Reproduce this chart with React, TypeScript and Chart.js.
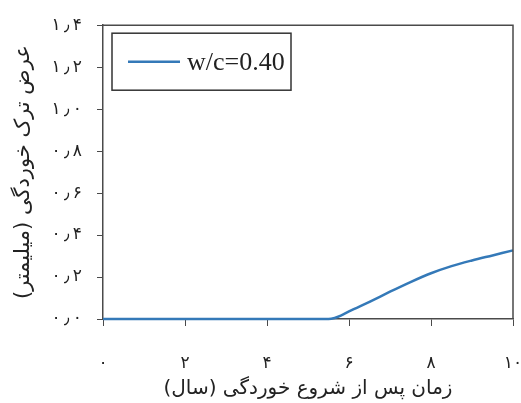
import React, { useEffect, useRef } from "react";
import { Chart, registerables } from "chart.js";

Chart.register(...registerables);

// Crack width (mm) against years since corrosion onset
const years = [0, 1, 2, 3, 4, 5, 5.5, 5.65, 5.8, 6, 6.5, 7, 7.5, 8, 8.5, 9, 9.5, 10];
const crackWidth = [0, 0, 0, 0, 0, 0, 0, 0.005, 0.016, 0.036, 0.082, 0.13, 0.176, 0.218, 0.252, 0.279, 0.303, 0.327];
const seriesLabel = "w/c=0.40";
const xTickValues = [0, 2, 4, 6, 8, 10];
const yTickValues = [0, 0.2, 0.4, 0.6, 0.8, 1.0, 1.2, 1.4];
const xTitle = "زمان پس از شروع خوردگی (سال)";
const yTitle = "عرض ترک خوردگی (میلیمتر)";

const LINE_COLOR = "#3479b8";
const FRAME_COLOR = "#4a4a4a";
const ARABIC_FONT = "'DejaVu Sans', sans-serif";

const persianDigits = "۰۱۲۳۴۵۶۷۸۹";
const toPersian = (s: string) =>
  s.replace(/[0-9]/g, (d) => persianDigits[Number(d)]).replace(".", "\u2009٫\u2009");

// Closes the box on the top and right sides of the plot
const framePlugin = {
  id: "frame",
  afterDatasetsDraw(chart: any) {
    const { ctx, chartArea } = chart;
    ctx.save();
    ctx.strokeStyle = FRAME_COLOR;
    ctx.lineWidth = 1.5;
    ctx.beginPath();
    ctx.moveTo(chartArea.left, chartArea.top);
    ctx.lineTo(chartArea.right, chartArea.top);
    ctx.lineTo(chartArea.right, chartArea.bottom);
    ctx.stroke();
    ctx.restore();
  },
};

// Boxed legend in the upper-left corner of the plot
const boxLegendPlugin = {
  id: "boxLegend",
  afterDraw(chart: any) {
    const { ctx, chartArea } = chart;
    const x = chartArea.left + 9;
    const y = chartArea.top + 8;
    const w = 179;
    const h = 57;
    ctx.save();
    ctx.fillStyle = "#ffffff";
    ctx.fillRect(x, y, w, h);
    ctx.strokeStyle = "#333333";
    ctx.lineWidth = 1.5;
    ctx.strokeRect(x, y, w, h);
    const midY = y + h / 2;
    ctx.strokeStyle = LINE_COLOR;
    ctx.lineWidth = 2.5;
    ctx.beginPath();
    ctx.moveTo(x + 16, midY);
    ctx.lineTo(x + 68, midY);
    ctx.stroke();
    ctx.fillStyle = "#222222";
    ctx.font = "26px 'Liberation Serif', serif";
    ctx.textBaseline = "middle";
    ctx.textAlign = "left";
    ctx.fillText(chart.data.datasets[0].label, x + 75, midY + 1);
    ctx.restore();
  },
};

export default function App() {
  const canvasRef = useRef<HTMLCanvasElement | null>(null);

  useEffect(() => {
    const canvas = canvasRef.current;
    if (!canvas) return;
    const chart = new Chart(canvas, {
      type: "line",
      data: {
        datasets: [
          {
            label: seriesLabel,
            data: years.map((x, i) => ({ x, y: crackWidth[i] })),
            borderColor: LINE_COLOR,
            borderWidth: 2.5,
            pointRadius: 0,
            cubicInterpolationMode: "monotone",
            clip: false,
            fill: false,
          },
        ],
      },
      options: {
        responsive: false,
        animation: false,
        layout: { padding: { top: 23, right: 8, left: 0, bottom: 0 } },
        plugins: {
          legend: { display: false },
          tooltip: { enabled: false },
        },
        scales: {
          x: {
            type: "linear",
            min: 0,
            max: 10,
            afterBuildTicks: (scale: any) => {
              scale.ticks = xTickValues.map((v) => ({ value: v }));
            },
            afterFit: (scale: any) => {
              scale.height = 84;
              scale.paddingLeft = 0;
              scale.paddingRight = 0;
            },
            grid: {
              drawOnChartArea: false,
              drawTicks: true,
              tickLength: 7,
              color: FRAME_COLOR,
              tickWidth: 1,
            },
            border: { display: true, color: FRAME_COLOR, width: 1.5 },
            ticks: {
              padding: 27,
              color: "#222",
              font: { family: ARABIC_FONT, size: 17 },
              maxRotation: 0,
              callback: (v: any) => toPersian(String(v)),
            },
            title: {
              display: true,
              text: xTitle,
              color: "#222",
              font: { family: ARABIC_FONT, size: 20 },
              padding: { top: 0, bottom: 2 },
            },
          },
          y: {
            type: "linear",
            min: 0,
            max: 1.4,
            afterBuildTicks: (scale: any) => {
              scale.ticks = yTickValues.map((v) => ({ value: v }));
            },
            afterFit: (scale: any) => {
              scale.width = 103;
            },
            grid: {
              drawOnChartArea: false,
              drawTicks: true,
              tickLength: 6,
              color: FRAME_COLOR,
              tickWidth: 1,
            },
            border: { display: true, color: FRAME_COLOR, width: 1.5 },
            ticks: {
              padding: 15,
              color: "#222",
              font: { family: ARABIC_FONT, size: 17 },
              callback: (v: any) => toPersian(Number(v).toFixed(1)),
            },
            title: {
              display: true,
              text: yTitle,
              color: "#222",
              font: { family: ARABIC_FONT, size: 21 },
              padding: { top: 11, bottom: 0 },
            },
          },
        },
      },
      plugins: [framePlugin, boxLegendPlugin],
    } as any);
    return () => chart.destroy();
  }, []);

  return (
    <div style={{ position: "absolute", left: 0, top: 0, width: 521, height: 403, background: "#fff" }}>
      <canvas ref={canvasRef} width={521} height={403} style={{ display: "block" }} />
    </div>
  );
}
